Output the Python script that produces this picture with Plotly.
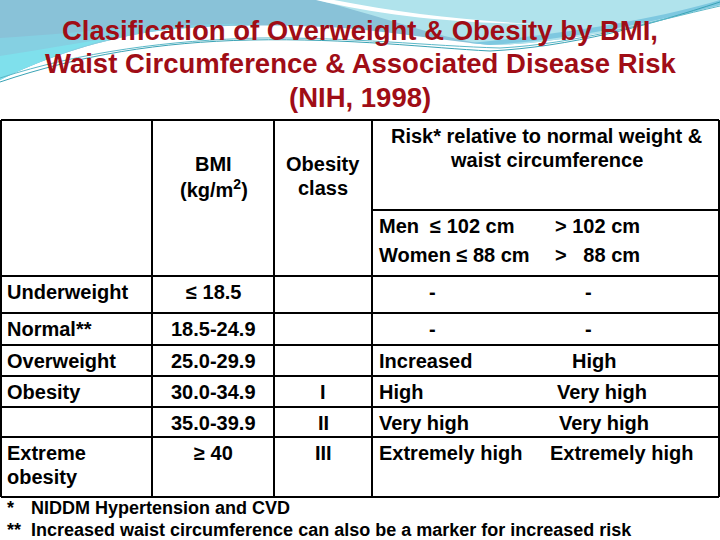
import plotly.graph_objects as go

# ---------------- data ----------------
title_lines = ["Clasification of Overweight & Obesity by BMI,",
               "Waist Circumference & Associated Disease Risk",
               "(NIH, 1998)"]
categories = ["Underweight", "Normal**", "Overweight", "Obesity", "", "Extreme<br>obesity"]
bmi_ranges = ["\u2264 18.5", "18.5-24.9", "25.0-29.9", "30.0-34.9", "35.0-39.9", "\u2265 40"]
obesity_class = ["", "", "", "I", "II", "III"]
risk_normal_waist = ["-", "-", "Increased", "High", "Very high", "Extremely high"]
risk_high_waist = ["-", "-", "High", "Very high", "Very high", "Extremely high"]
header_bmi = ["BMI", "(kg/m<sup>2</sup>)"]
header_class = ["Obesity", "class"]
header_risk = ["Risk* relative to normal weight &", "waist circumference"]
waist_low = ["Men  \u2264 102 cm", "Women \u2264 88 cm"]
waist_high = ["> 102 cm", ">   88 cm"]
footnote_marks = ["*", "**"]
footnotes = ["NIDDM Hypertension and CVD",
             "Increased waist circumference can also be a marker for increased risk"]

# ---------------- layout geometry (pixels) ----------------
W, H = 720, 540
col_edges = [1, 152, 274, 372, 719]
table_top, header_mid, header_bottom = 120, 210, 276
row_edges = [276, 313, 345, 376, 407, 437, 497]
risk_left_x = 377
risk_dash_x = [432, 588]
risk_high_x = [588, 588, 594, 602, 604, 621]

FONT = "Liberation Sans, Arial, sans-serif"
TS = 20

fig = go.Figure()
shapes = []
ann = []

# ---------------- background decoration ----------------
shapes.append(dict(type="path", layer="below", line=dict(width=0), fillcolor="#89c2d8",
                   path="M0,0 L720,0 L720,5 C680,15 630,28 600,33 C560,40 520,45 490,45 "
                        "C440,40 380,30 330,27 C260,24 200,25 150,32 C90,42 40,60 0,80 Z"))
shapes.append(dict(type="path", layer="below", line=dict(width=0), fillcolor="#85d0e2",
                   path="M0,38 C40,36 90,30 150,27 C200,24 240,23 260,24 "
                        "C200,25 150,32 150,32 C90,42 40,60 0,80 Z"))
shapes.append(dict(type="path", layer="below", line=dict(width=0), fillcolor="#7fe0ec",
                   path="M0,56 C40,50 80,42 120,37 C90,42 40,60 0,80 Z"))
shapes.append(dict(type="path", layer="below", line=dict(width=0), fillcolor="#b0e3ec",
                   path="M318,0 L720,0 L720,5 C680,15 630,28 600,33 C560,40 520,45 490,45 "
                        "C440,38 400,22 318,0 Z"))
shapes.append(dict(type="path", layer="below", line=dict(width=0), fillcolor="#7ec8e0",
                   path="M720,0 C660,18 580,32 470,43 L490,45 C560,40 630,28 720,5 Z"))
shapes.append(dict(type="path", layer="below", line=dict(width=0), fillcolor="#ffffff",
                   path="M316,0 L334,0 C400,13 460,20 535,24 C450,23 380,15 316,0 Z"))
shapes.append(dict(type="path", layer="below", line=dict(color="#3aa3b5", width=1),
                   path="M0,82 C80,55 160,42 250,40 C350,38 430,48 490,51 C570,47 650,25 720,2"))
shapes.append(dict(type="path", layer="below", line=dict(color="#5cb8c8", width=1),
                   path="M0,78 C80,52 170,40 260,38 C350,37 430,46 500,48 C575,44 650,22 720,6"))

# ---------------- table lines ----------------
LW = 2
for x in col_edges:
    shapes.append(dict(type="line", x0=x, x1=x, y0=table_top, y1=row_edges[-1],
                       line=dict(color="black", width=LW)))
for y in [table_top] + row_edges:
    shapes.append(dict(type="line", x0=col_edges[0], x1=col_edges[-1], y0=y, y1=y,
                       line=dict(color="black", width=LW)))
shapes.append(dict(type="line", x0=col_edges[3], x1=col_edges[-1], y0=header_mid, y1=header_mid,
                   line=dict(color="black", width=LW)))


def txt(x, y, s, size=TS, anchor="center", color="black"):
    ann.append(dict(x=x, y=y, text=s, showarrow=False, xanchor=anchor, yanchor="middle",
                    font=dict(family=FONT, size=size, color=color, weight="bold"),
                    align="left" if anchor == "left" else "center"))


# ---------------- title ----------------
for i, line in enumerate(title_lines):
    txt(W / 2, 30 + i * 33.5, line, size=27.5, color="#a00d16")

# ---------------- header ----------------
bmi_cx = (col_edges[1] + col_edges[2]) / 2 + 0.5
cls_cx = (col_edges[2] + col_edges[3]) / 2
for i, s in enumerate(header_bmi):
    txt(bmi_cx, 164 + 24 * i, s)
for i, s in enumerate(header_class):
    txt(cls_cx, 164 + 24 * i, s)
for i, s in enumerate(header_risk):
    txt(546, 136 + 24 * i, s)
for i, s in enumerate(waist_low):
    txt(risk_left_x, 226 + 29 * i, s, anchor="left")
for i, s in enumerate(waist_high):
    txt(553, 226 + 29 * i, s, anchor="left")

# ---------------- body rows ----------------
for i in range(len(categories)):
    yc = row_edges[i] + 16
    if categories[i]:
        for j, part in enumerate(categories[i].split("<br>")):
            txt(5, yc + 24 * j, part, anchor="left")
    txt(bmi_cx, yc, bmi_ranges[i])
    if obesity_class[i]:
        txt(cls_cx, yc, obesity_class[i])
    if risk_normal_waist[i] == "-":
        txt(risk_dash_x[0], yc, risk_normal_waist[i])
    else:
        txt(risk_left_x, yc, risk_normal_waist[i], anchor="left")
    txt(risk_high_x[i], yc, risk_high_waist[i])

# ---------------- footnotes ----------------
for i, (m, s) in enumerate(zip(footnote_marks, footnotes)):
    txt(5, 508 + 22 * i, m, size=18, anchor="left")
    txt(29, 508 + 22 * i, s, size=18, anchor="left")

fig.update_layout(
    width=W, height=H, margin=dict(l=0, r=0, t=0, b=0),
    paper_bgcolor="white", plot_bgcolor="white",
    xaxis=dict(range=[0, W], visible=False, fixedrange=True),
    yaxis=dict(range=[H, 0], visible=False, fixedrange=True),
    shapes=shapes, annotations=ann, showlegend=False,
)
fig.write_html("out.html", config={"displayModeBar": False},
               post_script="document.body.style.margin='0';document.body.style.overflow='hidden';")
